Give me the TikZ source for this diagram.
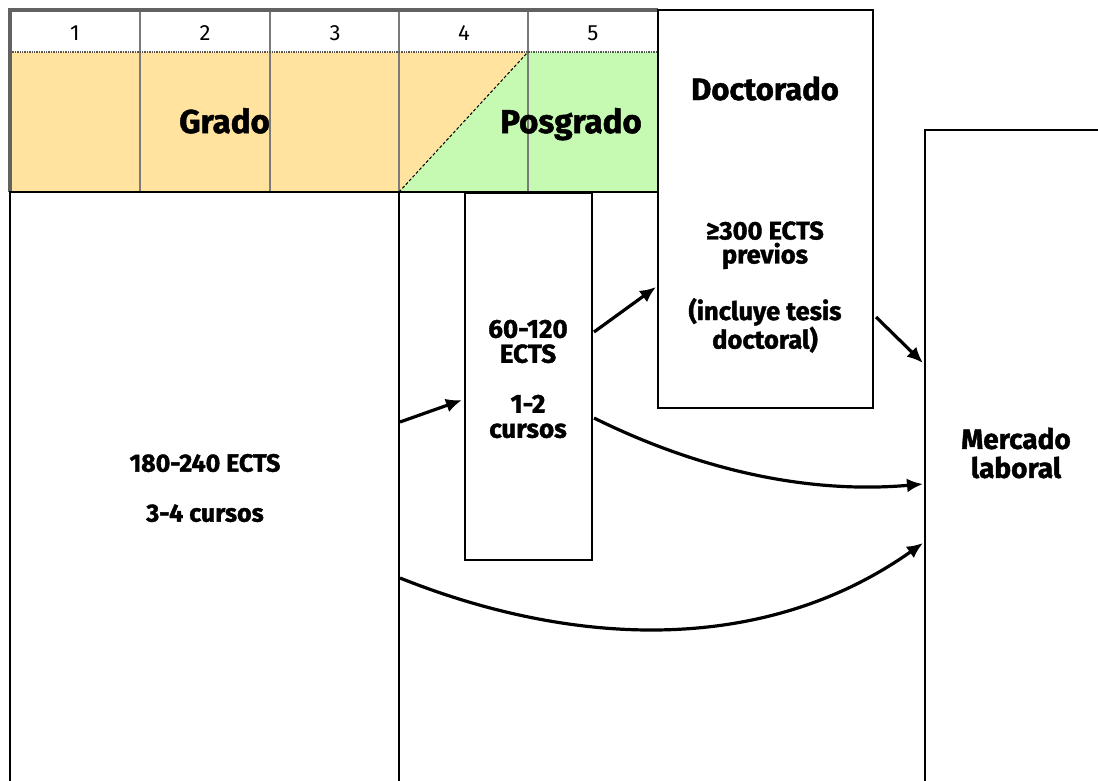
\documentclass[tikz,border=0pt]{standalone}
\usepackage{fontspec}
\setmainfont{Fira Sans}[BoldFeatures={FakeBold=1.5}]
\usetikzlibrary{arrows.meta,calc}
\definecolor{gradofill}{HTML}{FFE39E}
\definecolor{posfill}{HTML}{C6FAB2}
\definecolor{gridgray}{HTML}{7A7A7A}
\begin{document}
\begin{tikzpicture}[x=1pt,y=-1pt,
  box/.style={draw=black,line width=2.5pt,inner sep=0pt,outer sep=0pt,anchor=north west},
  hidden/.style={inner sep=0pt,outer sep=0pt,anchor=north west},
  numlbl/.style={font=\fontsize{22}{22}\selectfont,anchor=base,inner sep=0pt},
  title/.style={font=\fontsize{33}{33}\selectfont\bfseries,anchor=base,inner sep=0pt},
  body/.style={font=\fontsize{25}{25}\selectfont\bfseries,align=center,inner sep=0pt},
  flow/.style={line width=3.2pt,-{Latex[length=16pt,width=14pt]}},
]
\useasboundingbox (0,0) rectangle (1098,780);
\clip (0,0) rectangle (1098,780);
% header fills
\fill[gradofill] (10,52) rectangle (399,192);
\fill[gradofill] (399,52) -- (528,52) -- (399,192) -- cycle;
\fill[posfill] (528,52) -- (528,192) -- (399,192) -- cycle;
\fill[posfill] (528,52) rectangle (658,192);
% grid
\foreach \gx in {140,270,399,528} \draw[gridgray,line width=1.4pt] (\gx,10) -- (\gx,192);
\draw[gridgray!70!black,densely dotted,line width=1.4pt] (10,52) -- (658,52);
\draw[black,densely dashed,line width=1pt] (399,192) -- (528,52);
\draw[gridgray!80!black,line width=3.2pt] (10,192) -- (10,10) -- (658,10);
% numbers
\node[numlbl] (n1) at (75,40) {1};
\node[numlbl] (n2) at (205,40) {2};
\node[numlbl] (n3) at (335,40) {3};
\node[numlbl] (n4) at (464,40) {4};
\node[numlbl] (n5) at (593,40) {5};
% boxes
\node[box,minimum width=389pt,minimum height=620pt] (grado) at (10,192) {};
\node[hidden,minimum width=526pt,minimum height=620pt] (posg) at (399,192) {};
\draw[line width=2.5pt] (posg.north west) -- (posg.south west);
\draw[line width=2.5pt] (grado.north east) -- (658,192);
\node[box,minimum width=127pt,minimum height=367pt] (master) at (465,193) {};
\node[box,minimum width=215pt,minimum height=398pt] (doct) at (658,10) {};
\node[box,minimum width=200pt,minimum height=700pt] (merc) at (925,130) {};
% titles
\node[title,anchor=base east] (tgrado) at (270,133) {Grado};
\node[title] (tpos) at (571,133) {Posgrado};
\node[title,font=\fontsize{31}{31}\selectfont\bfseries] (tdoct) at (765,100) {Doctorado};
% body texts
\node[body] (tgr) at (205,488) {180-240 ECTS\\[25pt]3-4 cursos};
\node[body,font=\fontsize{26}{25}\selectfont\bfseries] (tma) at (528,379) {60-120\\ECTS\\[25pt]1-2\\cursos};
\node[body,font=\fontsize{25.5}{24}\selectfont\bfseries] (tdo) at (765,287) {≥300 ECTS\\previos\\[28pt](incluye tesis\\doctoral)};
\node[body,font=\fontsize{28}{29}\selectfont\bfseries] (tme) at (1016,453) {Mercado\\laboral};
% arrows
\coordinate (a1s) at ($(grado.north east)+(1,230)$);
\coordinate (a1e) at ($(master.north west)+(-3,207)$);
\coordinate (a2s) at ($(master.north east)+(2,139)$);
\coordinate (a2e) at ($(doct.north west)+(-2,277)$);
\coordinate (a3s) at ($(doct.north east)+(3,307)$);
\coordinate (a3e) at ($(merc.north west)+(-2,233)$);
\coordinate (a4s) at ($(master.north east)+(2,225)$);
\coordinate (a4e) at ($(merc.north west)+(-2,354)$);
\coordinate (a5s) at ($(grado.north east)+(1,386)$);
\coordinate (a5e) at ($(merc.north west)+(-2,413)$);
\draw[flow] (a1s) -- (a1e);
\draw[flow] (a2s) -- (a2e);
\draw[flow] (a3s) -- (a3e);
\draw[flow] (a4s) .. controls ($(a4s)+(107,53)$) and ($(a4e)+(-113,10)$) .. (a4e);
\draw[flow] (a5s) .. controls ($(a5s)+(175,70)$) and ($(a5e)+(-158,112)$) .. (a5e);
\end{tikzpicture}
\end{document}
